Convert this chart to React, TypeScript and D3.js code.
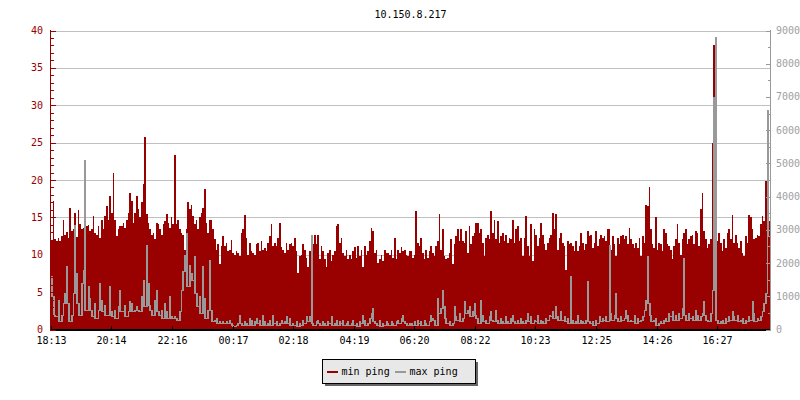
import React from 'react';
import * as d3 from 'd3';

const title = "10.150.8.217";
const seriesNames = ["min ping", "max ping"];
const timeLabels = ["18:13", "20:14", "22:16", "00:17", "02:18", "04:19", "06:20", "08:22", "10:23", "12:25", "14:26", "16:27"];
const leftTicks = [0, 5, 10, 15, 20, 25, 30, 35, 40];
const rightTicks = [0, 1000, 2000, 3000, 4000, 5000, 6000, 7000, 8000, 9000];

const minPing = [
  12.0,17.2,12.1,11.8,12.3,11.9,12.5,14.7,12.6,13.0,
  12.2,16.2,13.2,13.4,15.6,12.4,16.0,14.1,13.4,13.6,
  17.2,13.8,14.0,13.2,13.4,15.2,12.9,12.7,13.8,12.3,
  14.7,13.4,15.2,16.5,14.7,17.9,15.6,21.0,14.7,12.5,
  13.4,13.8,13.8,14.3,13.6,14.7,15.6,18.3,17.2,14.3,
  15.6,17.9,16.1,15.0,17.0,19.4,25.8,15.4,14.3,13.4,
  12.7,12.9,12.1,14.3,14.1,13.4,12.7,14.1,14.5,15.4,
  14.3,13.6,15.0,14.1,23.4,14.1,14.7,13.4,12.9,12.7,
  10.7,13.4,17.0,16.1,16.7,15.2,14.1,14.7,13.4,15.0,
  15.6,16.3,18.8,14.3,12.9,14.7,14.7,13.4,12.1,10.7,
  11.4,8.7,11.2,12.5,11.2,11.6,10.5,10.7,
  12.0,10.3,10.0,10.5,10.3,9.8,12.9,13.4,15.3,12.3,
  10.0,11.6,10.5,10.3,9.9,11.4,11.6,10.5,11.8,10.7,
  10.9,10.5,11.6,12.5,14.1,11.2,11.6,11.2,12.3,14.3,
  11.0,10.7,10.3,11.6,10.7,11.4,11.6,11.2,12.3,10.5,
  7.5,9.8,10.0,11.4,10.7,9.6,8.3,10.5,9.8,11.4,
  12.7,11.4,12.7,9.4,11.2,10.5,9.4,8.3,10.3,10.7,
  9.2,10.0,10.5,13.8,14.1,11.6,12.3,10.3,9.8,10.7,
  9.4,10.0,9.4,10.5,11.0,9.6,11.2,9.8,10.7,8.4,
  11.2,10.0,10.5,11.8,13.6,13.2,10.3,10.7,8.9,9.4,
  10.0,9.2,10.7,10.3,10.3,10.0,10.7,9.6,12.3,9.4,
  10.7,10.3,11.0,10.5,10.7,10.0,9.8,10.5,
  10.5,9.6,10.0,15.8,11.6,11.2,12.3,10.3,9.4,10.7,
  9.6,10.5,11.2,10.3,9.8,11.2,11.8,15.5,10.7,13.4,
  9.8,9.4,9.6,10.3,12.1,8.8,11.4,12.5,13.4,11.8,
  13.4,11.8,11.6,13.2,10.3,13.8,11.4,12.5,12.9,14.3,
  14.3,12.9,13.4,11.6,9.8,12.3,12.7,12.1,15.8,12.9,
  14.7,12.1,14.5,11.6,12.5,12.9,11.8,12.7,11.6,12.3,
  12.1,14.7,11.6,13.4,13.8,11.8,12.3,9.8,12.3,15.2,
  11.2,9.8,14.1,9.2,13.4,12.7,11.2,12.3,14.3,12.7,
  11.4,10.7,11.6,12.3,12.7,15.6,13.4,15.5,10.7,12.3,
  12.9,11.6,11.2,7.9,11.8,11.4,11.6,11.2,10.5,11.8,
  10.5,11.2,12.9,11.6,10.7,11.4,13.2,12.5,
  12.7,10.9,11.6,13.2,11.2,12.1,12.7,12.3,12.5,11.8,
  13.4,13.5,10.7,12.5,11.4,9.8,12.3,11.4,12.5,12.7,
  12.1,12.5,11.4,13.6,12.1,11.4,10.9,11.6,10.9,12.3,
  9.8,12.5,11.6,16.7,16.5,19.1,13.4,11.4,10.9,15.0,
  10.7,11.6,11.4,10.5,13.4,12.9,11.4,11.2,10.7,9.4,
  11.2,12.1,14.1,11.6,10.0,12.1,12.9,13.4,11.4,12.1,
  12.5,12.7,11.4,13.2,12.9,11.2,16.1,18.3,13.2,12.1,
  10.9,11.4,12.1,25.0,38.0,19.2,11.8,12.9,11.6,10.5,
  12.1,10.9,12.9,13.4,12.1,15.3,11.6,12.7,11.6,10.9,
  11.8,10.3,9.8,12.5,11.6,15.3,15.0,13.4,12.1,12.3,
  12.7,12.5,14.1,15.2,14.5,19.9,20.1,14.5
];

const maxPing = [
  1600,1000,450,400,900,250,450,800,1100,1900,
  800,250,450,1100,3150,1700,800,450,1400,1800,
  5100,600,1300,950,600,400,800,350,600,1400,
  900,550,750,450,450,1300,550,400,600,350,
  700,1200,550,550,750,400,550,850,800,550,
  600,700,600,550,1000,1500,700,2550,1400,750,
  600,450,900,1200,550,450,600,350,800,550,
  350,1000,400,350,400,350,300,550,1200,1750,
  2250,2900,1300,1950,1700,1500,2200,1100,700,1000,
  500,1900,950,350,600,2100,600,250,300,350,
  200,250,200,250,200,250,200,300,
  200,150,100,150,200,450,200,150,250,200,
  150,350,300,150,250,350,200,300,150,450,
  250,150,200,300,150,450,200,250,150,200,
  300,200,250,400,200,350,150,200,150,250,
  100,200,150,300,200,400,250,400,2850,200,
  150,250,300,200,150,250,200,150,250,200,
  400,150,200,300,150,250,200,300,150,200,
  250,150,200,300,150,200,100,250,200,450,
  300,150,200,350,500,650,250,200,150,300,
  100,200,150,250,200,150,250,200,150,250,
  300,200,350,450,250,200,150,200,
  200,150,250,150,300,200,250,150,300,200,
  150,250,450,350,300,150,950,500,650,1200,
  700,350,200,250,150,200,700,400,300,500,
  250,350,850,500,600,700,400,550,800,450,
  350,200,900,450,250,300,200,400,550,300,
  250,600,300,200,350,250,200,400,250,200,
  350,450,250,200,300,200,350,250,200,300,
  500,250,400,200,300,250,450,200,300,250,
  200,350,300,450,400,550,350,700,400,300,
  550,300,400,250,350,200,1600,300,200,250,
  450,200,300,250,200,300,1450,250,
  200,250,150,300,200,400,250,350,300,400,
  250,2550,500,300,450,1100,350,250,400,300,
  350,600,450,250,300,250,450,200,350,250,
  300,400,600,900,2200,800,450,250,300,350,
  150,200,250,200,300,350,250,500,400,550,
  300,450,300,500,350,650,2150,450,300,500,
  350,400,300,600,450,300,400,500,850,450,
  300,250,500,1200,7000,8800,300,200,250,300,
  200,350,250,400,300,550,400,300,450,250,
  300,350,200,300,250,400,300,850,500,250,
  350,300,400,550,800,1100,6600,2800
];

const W = 800, H = 400;
const L = 51, R = 770, T = 30.5, B = 329.5;
const RED = "#990000";
const GRAY = "#999999";
const FONT = "'DejaVu Sans Mono', monospace";

const toMin = (s: string) => {
  const [h, m] = s.split(":").map(Number);
  return h * 60 + m;
};

export default function App() {
  const n = minPing.length;
  const x = d3.scaleLinear().domain([0, n]).range([L, R]);
  const yL = d3.scaleLinear().domain([0, 40]).range([B, T]);
  const yR = d3.scaleLinear().domain([0, 9000]).range([B, T]);
  const tScale = d3.scaleLinear().domain([0, 1440]).range([L, R]);
  const s0 = toMin(timeLabels[0]);
  const tickX = timeLabels.map(l => Math.round(tScale((toMin(l) - s0 + 1440) % 1440)) + 0.5);

  const redData: [number, number][] = minPing.map((v, i) => [i, v] as [number, number]);
  redData.push([n, minPing[n - 1]]);

  const area = d3.area<[number, number]>()
    .x(d => Math.round(x(d[0]))).y0(B + 0.5).y1(d => Math.round(yL(d[1])))
    .curve(d3.curveStepAfter);

  // gray step line: each vertical jump is drawn inside the taller sample's pixel columns
  const c0 = (i: number) => Math.round(x(i));
  const wid = (i: number) => c0(i + 1) - c0(i);
  const gy = (v: number) => Math.round(yR(v)) + 0.5;
  const buildPts = (inner: number) => {
    const pts: [number, number][] = [[c0(0) + 0.5, gy(maxPing[0])]];
    for (let i = 0; i < n - 1; i++) {
      const up = maxPing[i + 1] > maxPing[i];
      const tall = up ? i + 1 : i;
      let off = inner;
      if (inner > 0 && wid(tall) < 2) off = up ? 0 : -1;
      const xt = up ? c0(i + 1) + 0.5 + off : c0(i + 1) - 0.5 - off;
      pts.push([xt, gy(maxPing[i])]);
      pts.push([xt, gy(maxPing[i + 1])]);
    }
    pts.push([c0(n) - 0.5, gy(maxPing[n - 1])]);
    return pts;
  };
  const line = d3.line<[number, number]>().x(d => d[0]).y(d => d[1]);
  const grayA = line(buildPts(0)) || "";
  const grayB = line(buildPts(1)) || "";

  const minorLeft = d3.range(0, 41, 1);
  const minorRight = d3.range(0, 9001, 500);
  const cy = (v: number) => Math.round(v) + 0.5;

  return (
    <svg width={W} height={H} style={{ position: "absolute", left: 0, top: 0, background: "#fff" }} fontFamily={FONT}>
      <rect x={0} y={0} width={W} height={H} fill="#fff" />
      <defs>
        <clipPath id="plotclip">
          <rect x={L} y={0} width={R - L} height={B + 1} />
        </clipPath>
      </defs>
      <text x={(L + R) / 2} y={17.5} textAnchor="middle" fontSize={10} fill="#000">{title}</text>
      {leftTicks.filter(v => v > 0).map(v => (
        <line key={"g" + v} x1={L} x2={R} y1={cy(yL(v))} y2={cy(yL(v))} stroke="#c0c0c0" strokeWidth={1} shapeRendering="crispEdges" />
      ))}
      <g clipPath="url(#plotclip)">
        <path d={area(redData) || ""} fill={RED} shapeRendering="crispEdges" />
        <path d={grayA} fill="none" stroke={GRAY} strokeWidth={1} strokeLinecap="square" shapeRendering="crispEdges" />
        <path d={grayB} fill="none" stroke={GRAY} strokeWidth={1} strokeLinecap="square" shapeRendering="crispEdges" />
      </g>
      {/* x axis */}
      <line x1={L - 1} x2={R} y1={B + 0.5} y2={B + 0.5} stroke="#000" strokeWidth={1.5} shapeRendering="crispEdges" />
      {tickX.map((tx, i) => (
        <g key={"xt" + i}>
          <line x1={tx} x2={tx} y1={B - 4} y2={B + 1} stroke="#000" strokeWidth={1} shapeRendering="crispEdges" />
          <text x={tx} y={344} textAnchor="middle" fontSize={10} fill="#000">{timeLabels[i]}</text>
        </g>
      ))}
      {/* left axis */}
      <line x1={L - 0.5} x2={L - 0.5} y1={T - 0.5} y2={B + 1} stroke={RED} strokeWidth={1} shapeRendering="crispEdges" />
      {minorLeft.map(v => (
        <line key={"lt" + v} x1={L - 1} x2={L + (v % 5 === 0 ? 5 : 3)} y1={cy(yL(v))} y2={cy(yL(v))} stroke={RED} strokeWidth={1} shapeRendering="crispEdges" />
      ))}
      {leftTicks.map(v => (
        <text key={"ll" + v} x={43} y={yL(v) + 3.5} textAnchor="end" fontSize={10} fill={RED}>{v}</text>
      ))}
      {/* right axis */}
      <line x1={R + 0.5} x2={R + 0.5} y1={T - 0.5} y2={B + 1} stroke={GRAY} strokeWidth={1} shapeRendering="crispEdges" />
      {minorRight.map(v => (
        <line key={"rt" + v} x1={R - (v % 1000 === 0 ? 4 : 2)} x2={R + 1} y1={cy(yR(v))} y2={cy(yR(v))} stroke={GRAY} strokeWidth={1} shapeRendering="crispEdges" />
      ))}
      {rightTicks.map(v => (
        <text key={"rl" + v} x={776} y={yR(v) + 3.5} textAnchor="start" fontSize={10} fill="#a0a0a0">{v}</text>
      ))}
      {/* legend */}
      <rect x={325} y={362} width={153} height={24} fill="#666666" />
      <rect x={322.5} y={359.5} width={153} height={24} fill="#e8e8e8" stroke="#000" strokeWidth={1} />
      <line x1={327} x2={338} y1={372} y2={372} stroke={RED} strokeWidth={2} />
      <text x={341.5} y={375} fontSize={10} fill="#000">{seriesNames[0]}</text>
      <line x1={395} x2={406} y1={372} y2={372} stroke={GRAY} strokeWidth={2} />
      <text x={409.5} y={375} fontSize={10} fill="#000">{seriesNames[1]}</text>
    </svg>
  );
}
